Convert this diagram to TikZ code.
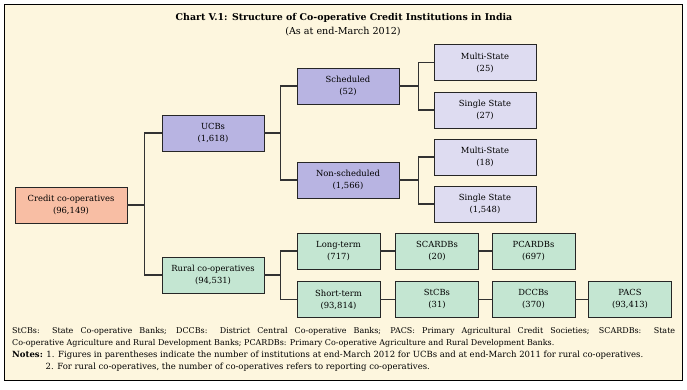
\documentclass[tikz,border=0pt]{standalone}
\usepackage{fontspec}
\setmainfont{DejaVu Serif}
\definecolor{paper}{RGB}{253,246,222}
\definecolor{salmon}{RGB}{248,190,164}
\definecolor{ucbblue}{RGB}{184,180,226}
\definecolor{leafblue}{RGB}{222,220,241}
\definecolor{ruralgreen}{RGB}{196,230,210}
\definecolor{linegray}{RGB}{50,50,50}

\begin{document}
\begin{tikzpicture}[x=1pt, y=-1pt,
  box/.style={draw=black!85, line width=0.9pt, align=center, inner sep=0pt,
    minimum width=102pt, minimum height=36pt,
    font=\fontsize{8.4}{12}\selectfont},
  wide/.style={box, minimum width=83pt},
  link/.style={draw=linegray, line width=1.1pt}]
  \useasboundingbox (0,0) rectangle (687,389);
  \draw[fill=paper, line width=0.9pt] (4,4) rectangle (682,380);

  \node (title) at (344,18) {\fontsize{9.4}{11}\selectfont\bfseries Chart V.1: Structure of Co-operative Credit Institutions in India};
  \node (sub) at (343,32) {\fontsize{9.6}{11}\selectfont (As at end-March 2012)};

  \node[box, fill=salmon, minimum width=112pt] (credit) at (71,205) {Credit co-operatives\\(96,149)};
  \node[box, fill=ucbblue] (ucb) at (213,133) {UCBs\\(1,618)};
  \node[box, fill=ruralgreen] (rural) at (213,275) {Rural co-operatives\\(94,531)};
  \node[box, fill=ucbblue] (sched) at (348,86) {Scheduled\\(52)};
  \node[box, fill=ucbblue] (nonsched) at (348,180) {Non-scheduled\\(1,566)};
  \node[box, fill=leafblue] (ms1) at (485,62.5) {Multi-State\\(25)};
  \node[box, fill=leafblue] (ss1) at (485,110) {Single State\\(27)};
  \node[box, fill=leafblue] (ms2) at (485,157) {Multi-State\\(18)};
  \node[box, fill=leafblue] (ss2) at (485,204) {Single State\\(1,548)};
  \node[wide, fill=ruralgreen] (longt) at (338.5,251) {Long-term\\(717)};
  \node[wide, fill=ruralgreen] (scardb) at (437,251) {SCARDBs\\(20)};
  \node[wide, fill=ruralgreen] (pcardb) at (533.5,251) {PCARDBs\\(697)};
  \node[wide, fill=ruralgreen] (shortt) at (338.5,299.5) {Short-term\\(93,814)};
  \node[wide, fill=ruralgreen] (stcb) at (437,299.5) {StCBs\\(31)};
  \node[wide, fill=ruralgreen] (dccb) at (533.5,299.5) {DCCBs\\(370)};
  \node[wide, fill=ruralgreen] (pacs) at (630,299.5) {PACS\\(93,413)};

  \draw[link] (credit.east) -- ++(17,0) |- (ucb.west);
  \draw[link] (credit.east) -- ++(17,0) |- (rural.west);
  \draw[link] (ucb.east) -- ++(16,0) |- (sched.west);
  \draw[link] (ucb.east) -- ++(16,0) |- (nonsched.west);
  \draw[link] (sched.east) -- ++(19,0) |- (ms1.west);
  \draw[link] (sched.east) -- ++(19,0) |- (ss1.west);
  \draw[link] (nonsched.east) -- ++(19,0) |- (ms2.west);
  \draw[link] (nonsched.east) -- ++(19,0) |- (ss2.west);
  \draw[link] (rural.east) -- ++(16,0) |- (longt.west);
  \draw[link] (rural.east) -- ++(16,0) |- (shortt.west);
  \draw[link] (longt) -- (scardb);
  \draw[link] (scardb) -- (pcardb);
  \draw[link] (shortt) -- (stcb);
  \draw[link] (stcb) -- (dccb);
  \draw[link] (dccb) -- (pacs);

  % abbreviations and notes
  \node[anchor=north west, inner sep=0pt, text width=663pt, align=justify,
    font=\fontsize{8}{12}\selectfont] (abbr) at (12,327)
    {StCBs: State Co-operative Banks; DCCBs: District Central Co-operative Banks; PACS: Primary Agricultural Credit Societies; SCARDBs: State\linebreak Co-operative Agriculture and Rural Development Banks; PCARDBs: Primary Co-operative Agriculture and Rural Development Banks.};
  \node[anchor=north west, inner sep=0pt, font=\fontsize{8.5}{12}\selectfont,
    align=left] (notes) at (12,351)
    {\textbf{Notes:} 1. Figures in parentheses indicate the number of institutions at end-March 2012 for UCBs and at end-March 2011 for rural co-operatives.\\
    \phantom{\textbf{Notes:}} 2. For rural co-operatives, the number of co-operatives refers to reporting co-operatives.};
\end{tikzpicture}
\end{document}
